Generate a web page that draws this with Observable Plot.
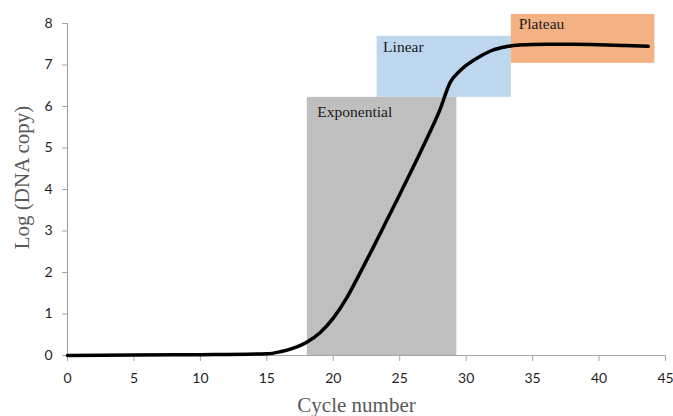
<!DOCTYPE html>
<html>
<head>
<meta charset="utf-8">
<script src="https://cdn.jsdelivr.net/npm/d3@7"></script>
<script src="https://cdn.jsdelivr.net/npm/@observablehq/plot@0.6"></script>
<style>
  html, body { margin: 0; padding: 0; background: #fff; }
  #chart svg { display: block; }
</style>
</head>
<body>
<div id="chart"></div>
<script>
// Curve data (cycle number vs log DNA copy)
const cycles = [0, 5, 10, 15, 16, 17, 18, 19, 20, 21, 22, 23, 24, 25, 26, 27, 28, 28.8, 29.5, 30, 31, 32, 33, 34, 36, 38, 40, 42, 43.7];
const logCopy = [0, 0.01, 0.02, 0.04, 0.09, 0.18, 0.32, 0.55, 0.9, 1.38, 1.98, 2.6, 3.24, 3.88, 4.53, 5.2, 5.9, 6.58, 6.85, 6.99, 7.2, 7.36, 7.44, 7.48, 7.5, 7.5, 7.49, 7.47, 7.45];

// Phase regions
const phaseNames = ["Exponential", "Linear", "Plateau"];
const phaseX1 = [18.05, 23.3, 33.4];
const phaseX2 = [29.3, 33.4, 44.2];
const phaseY1 = [0, 6.22, 7.04];
const phaseY2 = [6.22, 7.69, 8.22];
const phaseColors = ["#bfbfbf", "#bdd7ee", "#f4b183"];
const phaseLabelX = [18.8, 23.75, 33.95];
const phaseLabelY = [5.86, 7.43, 7.98];

// Ticks and titles
const xTicks = [0, 5, 10, 15, 20, 25, 30, 35, 40, 45];
const yTicks = [0, 1, 2, 3, 4, 5, 6, 7, 8];
const xTitle = "Cycle number";
const yTitle = "Log (DNA copy)";

const curve = cycles.map((c, i) => ({x: c, y: logCopy[i]}));
const phases = phaseNames.map((n, i) => ({
  name: n, x1: phaseX1[i], x2: phaseX2[i], y1: phaseY1[i], y2: phaseY2[i],
  fill: phaseColors[i], lx: phaseLabelX[i], ly: phaseLabelY[i]
}));

const axisGray = "#a6a6a6";
const tickFont = "Lato, 'Open Sans', sans-serif";
const serif = "'Liberation Serif', 'DejaVu Serif', serif";

const chart = Plot.plot({
  width: 673,
  height: 416,
  marginLeft: 67,
  marginRight: 8,
  marginTop: 23,
  marginBottom: 61,
  x: {domain: [0, 45]},
  y: {domain: [0, 8]},
  style: {background: "#fff"},
  marks: [
    Plot.rect(phases, {x1: "x1", x2: "x2", y1: "y1", y2: "y2", fill: "fill"}),
    Plot.text(phases, {x: "lx", y: "ly", text: "name", textAnchor: "start", fontFamily: serif, fontSize: 15.5, fill: "#1a1a1a"}),
    Plot.ruleY([0], {stroke: axisGray, strokeWidth: 1.2}),
    Plot.ruleX([0], {y1: 0, y2: 8, stroke: axisGray, strokeWidth: 1.2}),
    Plot.axisX({ticks: xTicks, tickSize: 6, tickPadding: 12, stroke: axisGray, fill: "#1f1f1f", fontSize: 14, fontFamily: tickFont, label: null}),
    Plot.axisY({ticks: yTicks, tickSize: 5, tickPadding: 10, stroke: axisGray, fill: "#1f1f1f", fontSize: 14, fontFamily: tickFont, label: null}),
    Plot.line(curve, {x: "x", y: "y", stroke: "#000", strokeWidth: 3.5, curve: "monotone-x"}),
    Plot.text([xTitle], {frameAnchor: "bottom", textAnchor: "middle", dx: -10, dy: 56, text: d => d, fontFamily: serif, fontSize: 21, fill: "#595959"}),
    Plot.text([yTitle], {frameAnchor: "left", textAnchor: "middle", rotate: -90, dx: -45, dy: -12, text: d => d, fontFamily: serif, fontSize: 21, fill: "#595959"})
  ]
});
document.getElementById("chart").appendChild(chart);
</script>
</body>
</html>
